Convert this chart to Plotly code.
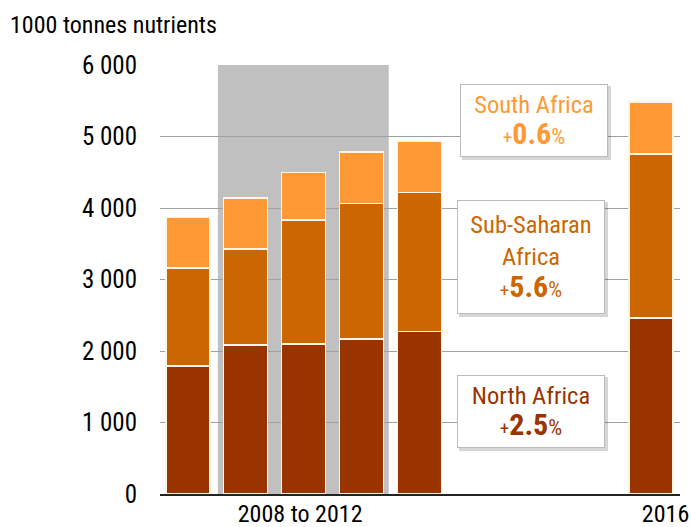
import plotly.graph_objects as go

# ---- data (1000 tonnes nutrients) ----
positions = [0, 1, 2, 3, 4, 8]
north_africa = [1790, 2085, 2100, 2170, 2270, 2460]
sub_saharan = [1370, 1345, 1730, 1890, 1950, 2295]      # stacked increments
south_africa = [710, 710, 670, 720, 720, 725]
tick_positions = [1.94, 8.25]
tick_labels = ["2008 to 2012", "2016"]
box_titles = ["South Africa", "Sub-Saharan<br>Africa", "North Africa"]
box_growth = ["0.6", "5.6", "2.5"]

FONT = "Roboto Condensed, Liberation Sans Narrow, Arial Narrow, sans-serif"
C_NORTH, C_SSA, C_SA = "#993300", "#CC6600", "#FF9933"

W, H = 691, 527
ML, MT = 160, 65
MR = W - 680
MB = H - 494
XR = [-0.48, 8.5]
YR = [0, 6000]
PW, PH = W - ML - MR, H - MT - MB

def px_to_x(px):
    return XR[0] + (px - ML) * (XR[1] - XR[0]) / PW

def py_to_y(py):
    return YR[1] - (py - MT) * (YR[1] - YR[0]) / PH

fig = go.Figure()
line = dict(color="#FFF5E6", width=1.5)
for name, vals, col in [("North Africa", north_africa, C_NORTH),
                        ("Sub-Saharan Africa", sub_saharan, C_SSA),
                        ("South Africa", south_africa, C_SA)]:
    fig.add_trace(go.Bar(x=positions, y=vals, name=name,
                         marker=dict(color=col, line=line), hoverinfo="skip"))

# grey period band
fig.add_shape(type="rect", xref="x", yref="y", x0=0.52, x1=3.47, y0=0, y1=6000,
              fillcolor="#C0C0C0", line_width=0, layer="below")

# boxes: (center px x, center px y, height px, color)
boxes = [(534, 120.5, 73, C_SA), (531, 257, 114, C_SSA), (531, 411.5, 73, C_NORTH)]
for (cx, cy, bh, col), title, g in zip(boxes, box_titles, box_growth):
    bw = 148
    fig.add_shape(type="rect", xref="x", yref="y",
                  x0=px_to_x(cx - bw / 2 + 2), x1=px_to_x(cx + bw / 2 + 3),
                  y0=py_to_y(cy + bh / 2 + 3), y1=py_to_y(cy - bh / 2 + 2),
                  fillcolor="rgba(0,0,0,0.16)", line_width=0, layer="above")
    txt = (f"{title}<br><span style='font-size:19px'>+</span>"
           f"<b><span style='font-size:30px'>{g}</span></b>"
           f"<span style='font-size:22px'>%</span>")
    fig.add_annotation(x=px_to_x(cx), y=py_to_y(cy), xref="x", yref="y",
                       text=txt, showarrow=False, align="center",
                       width=bw - 2, height=bh - 2, borderpad=0,
                       bgcolor="white", bordercolor="#BBBBBB", borderwidth=1,
                       font=dict(family=FONT, size=24.5, color=col))

fig.update_layout(
    width=W, height=H, barmode="stack", bargap=0.24,
    margin=dict(l=ML, r=MR, t=MT, b=MB, autoexpand=False),
    paper_bgcolor="white", plot_bgcolor="white", showlegend=False,
    font=dict(family=FONT, size=23, color="black"),
)
fig.update_xaxes(range=XR, tickmode="array", tickvals=tick_positions, ticktext=tick_labels,
                 showgrid=False, showline=True, linecolor="#222222", linewidth=2,
                 zeroline=False, tickfont=dict(size=24), ticks="", ticklabelstandoff=-3,
                 automargin=False, ticklabeloverflow="allow")
fig.update_yaxes(range=YR, tickvals=[0, 1000, 2000, 3000, 4000, 5000, 6000],
                 ticktext=["0", "1 000", "2 000", "3 000", "4 000", "5 000", "6 000"],
                 showgrid=True, gridcolor="#A0A0A0", gridwidth=1, zeroline=False,
                 tickfont=dict(size=25), ticklabelstandoff=22, ticks="",
                 automargin=False)
fig.add_annotation(text="1000 tonnes nutrients", xref="paper", yref="paper",
                   x=-ML / PW + 8 / PW, y=1 + (MT - 25) / PH,
                   xanchor="left", yanchor="middle", showarrow=False,
                   font=dict(family=FONT, size=24, color="black"))

# remove the default 8px page margin so the 691x527 figure fills the window exactly
fig.write_html("out.html", config={"displayModeBar": False},
               post_script="document.body.style.margin='0px';")
